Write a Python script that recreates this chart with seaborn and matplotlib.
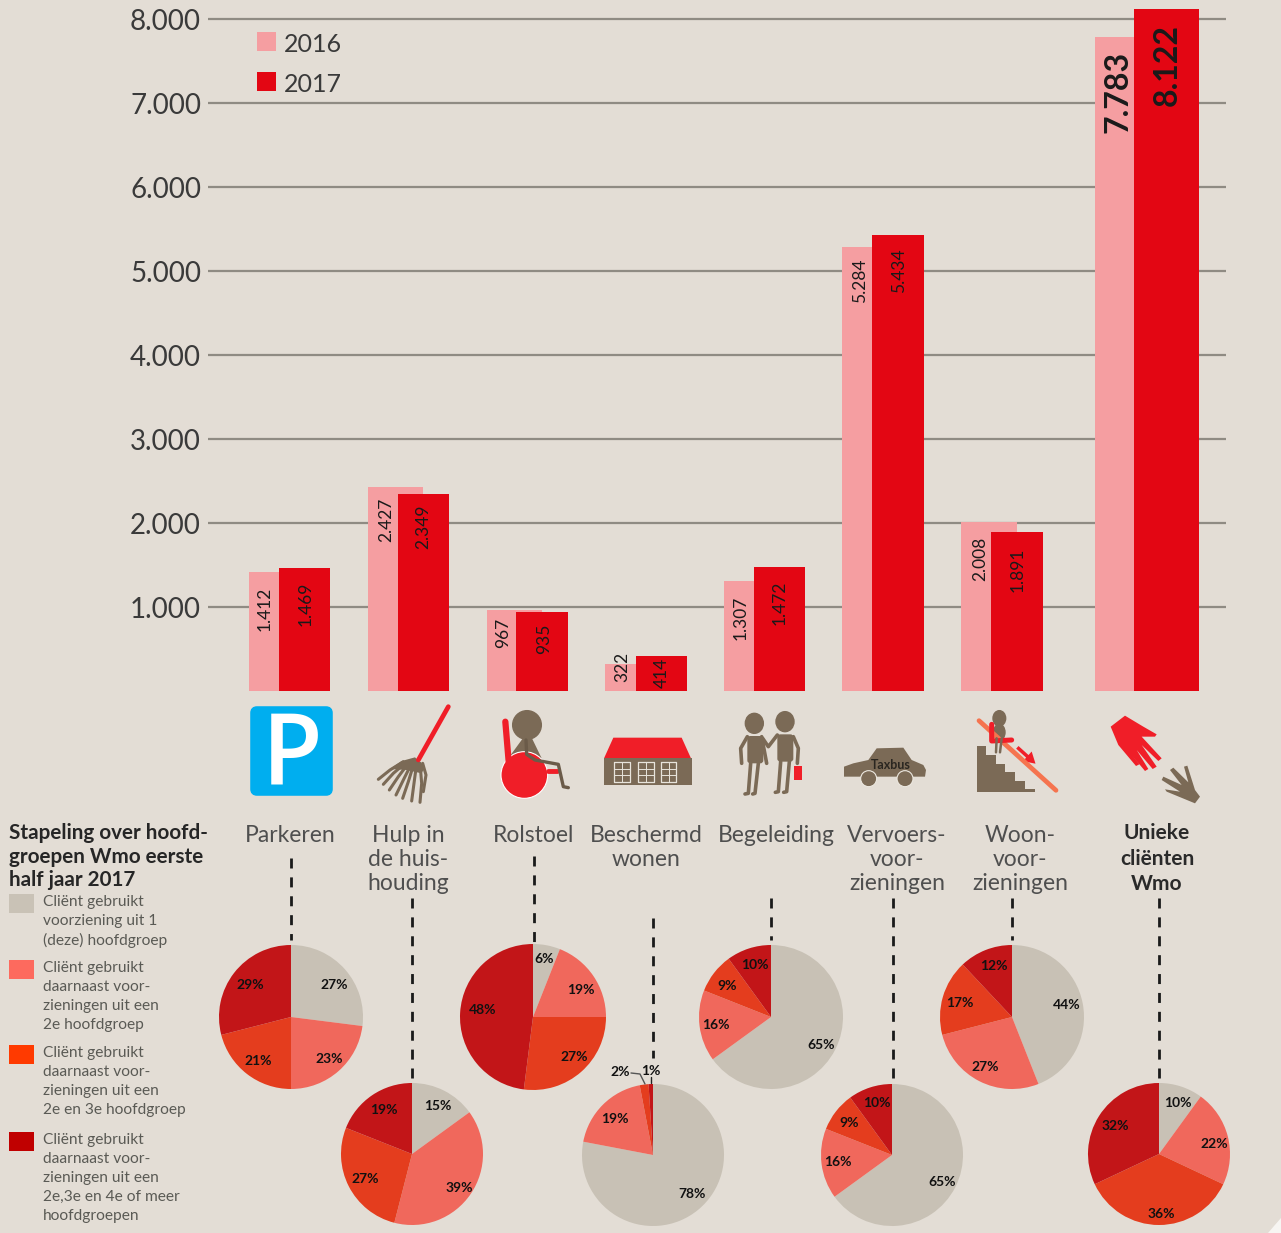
import matplotlib
matplotlib.use('Agg')
import matplotlib.pyplot as plt
from matplotlib.patches import Circle, Ellipse, FancyArrow, FancyBboxPatch, Polygon, Rectangle
import pandas as pd
import seaborn as sns

# data
categories = ['Parkeren', 'Hulp in de huishouding', 'Rolstoel', 'Beschermd wonen',
              'Begeleiding', 'Vervoersvoorzieningen', 'Woonvoorzieningen', 'Unieke cliënten Wmo']
values_2016 = [1412, 2427, 967, 322, 1307, 5284, 2008, 7783]
values_2017 = [1469, 2349, 935, 414, 1472, 5434, 1891, 8122]
y_ticks = [1000, 2000, 3000, 4000, 5000, 6000, 7000, 8000]

pie_values = [
    [27, 23, 21, 29],
    [15, 39, 27, 19],
    [6, 19, 27, 48],
    [78, 19, 2, 1],
    [65, 16, 9, 10],
    [65, 16, 9, 10],
    [44, 27, 17, 12],
    [10, 22, 36, 32],
]
legend_texts = [
    ['Cliënt gebruikt', 'voorziening uit 1', '(deze) hoofdgroep'],
    ['Cliënt gebruikt', 'daarnaast voor-', 'zieningen uit een', '2e hoofdgroep'],
    ['Cliënt gebruikt', 'daarnaast voor-', 'zieningen uit een', '2e en 3e hoofdgroep'],
    ['Cliënt gebruikt', 'daarnaast voor-', 'zieningen uit een', '2e,3e en 4e of meer', 'hoofdgroepen'],
]
heading = ['Stapeling over hoofd-', 'groepen Wmo eerste', 'half jaar 2017']

# layout, in pixels of the picture
W, H = 1281, 1233
BASE_Y = 691
PX_PER_UNIT = 0.0840
bars_2016 = [(249, 305), (368, 423), (487, 542), (605, 660), (724, 779), (842, 897), (961, 1017), (1095, 1150)]
bars_2017 = [(279, 330), (398, 449), (516, 568), (636, 687), (754, 805), (872, 924), (991, 1043), (1134, 1199)]
label_x_2016 = [265, 386, 503, 622, 741, 860, 980, 1118]
label_x_2017 = [306, 423, 544, 662, 780, 899, 1018, 1167]
label_gap_2016 = [14, 10, 8, -12, 14, 11, 14, 14]
label_gap_2017 = [14, 11, 11, 2, 13, 14, 15, 15]
pie_centers = [(291, 1017), (412, 1154), (533, 1017), (653, 1155), (771, 1017), (892, 1155), (1012, 1017), (1159, 1154)]
pie_radius = [72, 71, 73, 71, 72, 71, 72, 71]
pie_label_pos = [
    [(334, 985), (329, 1059), (258, 1061), (250, 985)],
    [(438, 1106), (459, 1188), (365, 1179), (384, 1110)],
    [(544, 959), (581, 990), (574, 1057), (483, 1010)],
    [(692, 1194), (615, 1119), (620, 1072), (651, 1071)],
    [(821, 1045), (716, 1025), (727, 986), (755, 965)],
    [(942, 1182), (838, 1162), (849, 1123), (877, 1103)],
    [(1067, 1005), (985, 1067), (960, 1003), (994, 966)],
    [(1178, 1103), (1214, 1144), (1161, 1214), (1115, 1126)],
]
dash_lines = [(291, 858, 940), (412, 898, 1078), (534, 856, 945), (653, 918, 1058),
              (771, 898, 940), (893, 898, 1080), (1012, 898, 940), (1159, 898, 1078)]
cat_labels = [
    (290, [(836, 'Parkeren')]),
    (408, [(836, 'Hulp in'), (860, 'de huis-'), (883, 'houding')]),
    (534, [(836, 'Rolstoel')]),
    (646, [(836, 'Beschermd'), (860, 'wonen')]),
    (776, [(836, 'Begeleiding')]),
    (897, [(836, 'Vervoers-'), (860, 'voor-'), (883, 'zieningen')]),
    (1020, [(836, 'Woon-'), (860, 'voor-'), (883, 'zieningen')]),
]

BG = '#e3ddd5'
PINK = '#f59ea1'
RED = '#e30613'
BROWN = '#7b6a56'
ICON_RED = '#f01e28'
PIE_COLORS = ['#c8c1b5', '#f0685c', '#e43d1e', '#c21518']
LEGEND_COLORS = ['#c9c2b6', '#fd6a5e', '#ff3a00', '#c00000']

sns.set_theme(style='white', rc={'axes.facecolor': 'none', 'figure.facecolor': BG,
                                 'savefig.facecolor': BG})
plt.rcParams['font.family'] = ['Lato', 'DejaVu Sans']

fig = plt.figure(figsize=(W / 100, H / 100), dpi=100)

# bars with their own value scale
ax = fig.add_axes([208 / W, (H - BASE_Y) / H, (1226 - 208) / W, BASE_Y / H])
df = pd.DataFrame({'categorie': categories, '2016': values_2016, '2017': values_2017})
for year, spans, color in [('2016', bars_2016, PINK), ('2017', bars_2017, RED)]:
    for value, (x0, x1) in zip(df[year], spans):
        sns.barplot(x=[(x0 + x1) / 2], y=[value], native_scale=True, width=x1 - x0,
                    color=color, saturation=1, linewidth=0, errorbar=None, ax=ax)
ax.set_xlim(208, 1226)
ax.set_ylim(0, BASE_Y / PX_PER_UNIT)
ax.set_xticks([])
ax.set_xlabel('')
ax.set_ylabel('')
ax.set_yticks(y_ticks)
ax.set_yticklabels([f'{v:,}'.replace(',', '.') for v in y_ticks], fontsize=20, color='#3a3a3a')
ax.tick_params(axis='y', length=0, pad=5)
ax.yaxis.grid(True, color='#8f8b83', linewidth=1.6)
ax.set_axisbelow(True)
sns.despine(ax=ax, left=True, bottom=True)

for xs, gaps, vals in [(label_x_2016, label_gap_2016, values_2016), (label_x_2017, label_gap_2017, values_2017)]:
    for i, (x, gap, v) in enumerate(zip(xs, gaps, vals)):
        last = i == len(vals) - 1
        ax.annotate(f'{v:,}'.replace(',', '.'), xy=(x, v), xytext=(0, -gap), textcoords='offset pixels',
                    rotation=90, ha='center', va='top', color='#1a1a1a',
                    fontsize=23 if last else 12.5, fontweight='bold' if last else 'normal', clip_on=False)

# overlay in picture pixels for pies, icons and text
ov = fig.add_axes([0, 0, 1, 1], zorder=5)
ov.patch.set_alpha(0)


def fy(y):
    return H - y


def txt(x, y, s, **kw):
    kw.setdefault('ha', 'left')
    kw.setdefault('va', 'center')
    return ov.text(x, fy(y), s, **kw)


# page corner
ov.add_patch(Polygon([(1281, fy(1218)), (1274, fy(1226)), (1268, fy(1233)), (1281, fy(1233))], color='#f7f5f2', lw=0))

# year legend
for y0, year, color, dy in [(32, '2016', PINK, 12), (72, '2017', RED, 13)]:
    ov.add_patch(Rectangle((257, fy(y0 + 19)), 19, 19, color=color, lw=0))
    txt(284, y0 + dy, year, fontsize=18, color='#3a3a3a')

# category labels
for x, lines in cat_labels:
    for y, s in lines:
        txt(x, y, s, ha='center', fontsize=16.5, color='#4f4f4f')
for y, s in [(833, 'Unieke'), (859, 'cliënten'), (884, 'Wmo')]:
    txt(1157, y, s, ha='center', fontsize=15, color='#2a2a2a', fontweight='bold')

# left block
for y, s in zip([833, 857, 880], heading):
    txt(9, y, s, fontsize=14.9, color='#262626', fontweight='bold')
legend_tops = [894, 960, 1045, 1132]
for top, color, lines in zip(legend_tops, LEGEND_COLORS, legend_texts):
    ov.add_patch(Rectangle((9, fy(top + 19)), 25, 19, color=color, lw=0))
    for j, s in enumerate(lines):
        txt(43, top + 8 + j * 19, s, fontsize=11.2, color='#5a5a55')

# dashed connectors
for x, y0, y1 in dash_lines:
    ov.plot([x, x], [fy(y0), fy(y1)], color='#1a1a1a', lw=2, dashes=(3.6, 3.2))

# pies
for vals, c, r, positions in zip(pie_values, pie_centers, pie_radius, pie_label_pos):
    ov.pie(vals, colors=PIE_COLORS, startangle=90, counterclock=False, radius=r,
           center=(c[0], fy(c[1])), frame=True, wedgeprops={'linewidth': 0})
    for v, (x, y) in zip(vals, positions):
        txt(x, y, f'{v}%', ha='center', fontsize=10, fontweight='bold', color='#111111')

# leader lines of the small Beschermd wonen slices
ov.plot([651, 651], [fy(1077), fy(1083)], color='#222222', lw=1)
ov.plot([631, 640, 645], [fy(1073), fy(1074), fy(1084)], color='#555555', lw=1)


def z1(x, y):
    return 240 + x / 3, fy(695 + y / 3)


def z2(x, y):
    return 720 + x / 3, fy(695 + y / 3)


def poly(z, pts, color, **kw):
    ov.add_patch(Polygon([z(*p) for p in pts], closed=True, color=color, lw=0, **kw))


def line(z, pts, color, lw, **kw):
    xy = [z(*p) for p in pts]
    ov.plot([p[0] for p in xy], [p[1] for p in xy], color=color, lw=lw,
            solid_capstyle='round', solid_joinstyle='round', **kw)


def ell(z, x, y, rx, ry, color, **kw):
    ov.add_patch(Ellipse(z(x, y), 2 * rx / 3, 2 * ry / 3, color=color, **kw))


# parking
ov.add_patch(FancyBboxPatch((253, fy(793)), 77, 84, boxstyle='round,pad=0,rounding_size=4',
                            mutation_aspect=1, fc='#00aeef', ec='#00aeef', lw=4))
txt(292, 759, 'P', ha='center', fontsize=71, color='white', fontweight='semibold', family='Open Sans')

# broom
line(z1, [(625, 35), (535, 195)], ICON_RED, 3.4)
poly(z1, [(525, 187), (485, 198), (450, 222), (500, 225), (545, 235), (555, 215)], BROWN)
for pts in [[(490, 200), (450, 225), (415, 253)],
            [(495, 205), (460, 235), (430, 268)],
            [(505, 205), (475, 245), (448, 285)],
            [(515, 205), (490, 255), (468, 300)],
            [(522, 205), (505, 260), (488, 310)],
            [(530, 205), (522, 265), (515, 318)],
            [(540, 205), (545, 265), (540, 322)],
            [(548, 205), (558, 240), (550, 290)]]:
    line(z1, pts, BROWN, 2.2)

# wheelchair
line(z1, [(796, 80), (806, 200)], ICON_RED, 4.5)
poly(z1, [(812, 180), (850, 128), (875, 128), (905, 190)], BROWN)
ell(z1, 861, 90, 43, 43, BROWN)
line(z1, [(925, 228), (950, 228)], ICON_RED, 3.5)
ov.add_patch(Circle(z1(853, 240), 70 / 3, fc=ICON_RED, ec='white', lw=0.8))
line(z1, [(858, 135), (860, 178), (885, 195), (955, 208), (970, 275), (985, 278)], '#6b5b49', 2.4)

# house
poly(z1, [(1120, 128), (1325, 128), (1353, 190), (1092, 190)], ICON_RED)
poly(z1, [(1092, 190), (1355, 190), (1355, 270), (1092, 270)], BROWN)
for wx in [1123, 1195, 1263]:
    line(z1, [(wx, 202), (wx + 46, 202), (wx + 46, 260), (wx, 260), (wx, 202)], '#e8e4dc', 0.9)
    line(z1, [(wx + 23, 202), (wx + 23, 260)], '#e8e4dc', 0.7)
    line(z1, [(wx, 222), (wx + 46, 222)], '#e8e4dc', 0.7)
    line(z1, [(wx, 241), (wx + 46, 241)], '#e8e4dc', 0.7)

# two people
ell(z2, 103, 85, 27, 30, BROWN)
ell(z2, 195, 80, 27, 30, BROWN)
ov.add_patch(FancyBboxPatch(z2(82, 205), 48 / 3, 82 / 3, boxstyle='round,pad=0,rounding_size=3', fc=BROWN, ec=BROWN, lw=0))
ov.add_patch(FancyBboxPatch(z2(172, 200), 48 / 3, 82 / 3, boxstyle='round,pad=0,rounding_size=3', fc=BROWN, ec=BROWN, lw=0))
for pts in [[(92, 205), (85, 295), (75, 297)], [(115, 205), (105, 295), (98, 297)],
            [(182, 200), (175, 290), (166, 292)], [(208, 200), (200, 290), (191, 292)],
            [(82, 125), (62, 160), (65, 205)], [(125, 125), (140, 205)],
            [(172, 120), (145, 155), (128, 130)], [(220, 125), (235, 160), (232, 205)]]:
    line(z2, pts, BROWN, 2.6)
poly(z2, [(222, 212), (246, 212), (246, 256), (222, 256)], ICON_RED)

# taxi
poly(z2, [(372, 240), (372, 215), (400, 205), (445, 195), (470, 160), (550, 158), (575, 195), (610, 210),
          (618, 225), (615, 245), (372, 245)], BROWN)
for wx in [446, 555]:
    ov.add_patch(Circle(z2(wx, 251), 24 / 3, fc=BROWN, ec='#ece8e0', lw=0.8))
ov.text(*z2(511, 210), 'Taxbus', ha='center', va='center', fontsize=9, fontweight='bold', color='#2a2620')

# stairlift
poly(z2, [(770, 153), (798, 153), (798, 180), (827, 180), (827, 207), (856, 207), (856, 232), (886, 232),
          (886, 257), (916, 257), (916, 282), (946, 282), (946, 292), (770, 292)], BROWN)
line(z2, [(777, 77), (1008, 286)], '#f5744f', 3.4)
line(z2, [(815, 88), (815, 138), (875, 135)], ICON_RED, 3.6)
ell(z2, 838, 70, 19, 23, BROWN)
ell(z2, 838, 112, 17, 24, BROWN)
line(z2, [(830, 130), (828, 172)], BROWN, 1.8)
line(z2, [(845, 130), (840, 172)], BROWN, 1.8)
a0 = z2(892, 157)
a1 = z2(922, 184)
ov.add_patch(FancyArrow(a0[0], a0[1], a1[0] - a0[0], a1[1] - a0[1], width=3.5, head_width=13, head_length=11,
                        length_includes_head=False, color=ICON_RED, lw=0))

# hands
poly(z2, [(1172, 95), (1215, 62), (1270, 95), (1310, 118), (1305, 125), (1265, 125), (1325, 190), (1315, 198),
          (1265, 150), (1310, 215), (1298, 222), (1250, 165), (1285, 222), (1275, 228), (1235, 180),
          (1258, 208), (1248, 213), (1195, 150)], ICON_RED)
poly(z2, [(1440, 305), (1425, 325), (1340, 290), (1335, 283), (1380, 290), (1325, 255), (1330, 245), (1385, 270),
          (1350, 225), (1360, 218), (1405, 262), (1392, 215), (1402, 212), (1425, 285)], BROWN)

ov.set_xlim(0, W)
ov.set_ylim(0, H)
ov.set_aspect('auto')
ov.axis('off')

fig.savefig('out.png', dpi=100)
plt.close(fig)
